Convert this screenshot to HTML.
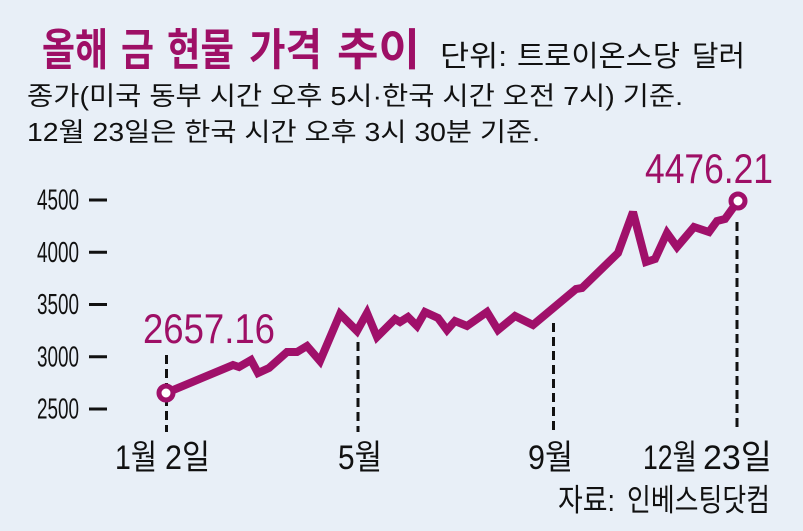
<!DOCTYPE html>
<html>
<head>
<meta charset="utf-8">
<style>
  html,body{margin:0;padding:0;background:#e8eff7;}
  svg{display:block;}
  text{font-family:"Liberation Sans","Noto Sans CJK KR",sans-serif;}
</style>
</head>
<body>
<svg width="803" height="531" viewBox="0 0 803 531" xmlns="http://www.w3.org/2000/svg">
  <rect x="0" y="0" width="803" height="531" fill="#e8eff7"/>

  <!-- Title (per word for tight spacing) -->
  <g font-size="44" font-weight="bold" fill="#9e0f66">
    <text x="42" y="65" textLength="66" lengthAdjust="spacingAndGlyphs">올해</text>
    <text x="121" y="65" textLength="33" lengthAdjust="spacingAndGlyphs">금</text>
    <text x="167" y="65" textLength="67" lengthAdjust="spacingAndGlyphs">현물</text>
    <text x="249" y="65" textLength="73" lengthAdjust="spacingAndGlyphs">가격</text>
    <text x="337" y="65" textLength="83" lengthAdjust="spacingAndGlyphs">추이</text>
  </g>
  <g font-size="29" fill="#111">
    <text x="440" y="66" textLength="67" lengthAdjust="spacingAndGlyphs">단위:</text>
    <text x="517" y="66" textLength="163" lengthAdjust="spacingAndGlyphs">트로이온스당</text>
    <text x="692" y="66" textLength="53" lengthAdjust="spacingAndGlyphs">달러</text>
  </g>

  <!-- Subtitle lines -->
  <text x="27" y="105" font-size="26" fill="#111" textLength="656" lengthAdjust="spacingAndGlyphs">종가(미국 동부 시간 오후 5시·한국 시간 오전 7시) 기준.</text>
  <text x="27" y="141" font-size="26" fill="#111" textLength="513" lengthAdjust="spacingAndGlyphs">12월 23일은 한국 시간 오후 3시 30분 기준.</text>

  <!-- Y axis labels and ticks -->
  <g font-size="29" fill="#111">
    <text x="37" y="209.5" textLength="42" lengthAdjust="spacingAndGlyphs">4500</text>
    <text x="37" y="261.8" textLength="42" lengthAdjust="spacingAndGlyphs">4000</text>
    <text x="37" y="314" textLength="42" lengthAdjust="spacingAndGlyphs">3500</text>
    <text x="37" y="366.3" textLength="42" lengthAdjust="spacingAndGlyphs">3000</text>
    <text x="37" y="418.5" textLength="42" lengthAdjust="spacingAndGlyphs">2500</text>
  </g>
  <g stroke="#111" stroke-width="3">
    <line x1="89" y1="200" x2="107" y2="200"/>
    <line x1="89" y1="252.3" x2="107" y2="252.3"/>
    <line x1="89" y1="304.5" x2="107" y2="304.5"/>
    <line x1="89" y1="356.8" x2="107" y2="356.8"/>
    <line x1="89" y1="409" x2="107" y2="409"/>
  </g>

  <!-- Dashed vertical guides -->
  <g stroke="#111" stroke-width="3" stroke-dasharray="9,5">
    <line x1="166.5" y1="355" x2="166.5" y2="432"/>
    <line x1="358" y1="342" x2="358" y2="432"/>
    <line x1="553.5" y1="323" x2="553.5" y2="432"/>
    <line x1="737" y1="222" x2="737" y2="432"/>
  </g>

  <!-- Series -->
  <polyline fill="none" stroke="#a0106a" stroke-width="8" stroke-linejoin="miter" stroke-miterlimit="3" stroke-linecap="round"
    points="166,393 233,365 239,367 251,360 258,373 269,368 287,352 297,352 307,346 320,361 340,314 357,331 367,313 377,337 395,319 400,322 408,317 417,326 425,312 438,318 447,330 455,321 467,326 487,312 498,330 515,316 533,325 576,289 582,288 618,253 633,212 646,262 655,259 667,233 677,247 694,227 709,232 717,221 725,219 738,201"/>

  <!-- Endpoint circles -->
  <circle cx="166" cy="393" r="7" fill="#ffffff" stroke="#a0106a" stroke-width="5"/>
  <circle cx="738" cy="201" r="7" fill="#ffffff" stroke="#a0106a" stroke-width="5"/>

  <!-- Value labels -->
  <text x="143" y="343" font-size="42" fill="#9e0f66" textLength="132" lengthAdjust="spacingAndGlyphs">2657.16</text>
  <text x="645" y="183" font-size="42" fill="#9e0f66" textLength="128" lengthAdjust="spacingAndGlyphs">4476.21</text>

  <!-- X axis labels -->
  <g font-size="34" fill="#111">
    <text x="115" y="469" textLength="42" lengthAdjust="spacingAndGlyphs">1월</text>
    <text x="165" y="469" textLength="45" lengthAdjust="spacingAndGlyphs">2일</text>
    <text x="338" y="469" textLength="44" lengthAdjust="spacingAndGlyphs">5월</text>
    <text x="528" y="469" textLength="45" lengthAdjust="spacingAndGlyphs">9월</text>
    <text x="643" y="469" textLength="54" lengthAdjust="spacingAndGlyphs">12월</text>
    <text x="703" y="469" textLength="69" lengthAdjust="spacingAndGlyphs">23일</text>
  </g>

  <!-- Source -->
  <g font-size="31" fill="#111">
    <text x="558" y="511" textLength="57" lengthAdjust="spacingAndGlyphs">자료:</text>
    <text x="627" y="511" textLength="143" lengthAdjust="spacingAndGlyphs">인베스팅닷컴</text>
  </g>
</svg>
</body>
</html>
